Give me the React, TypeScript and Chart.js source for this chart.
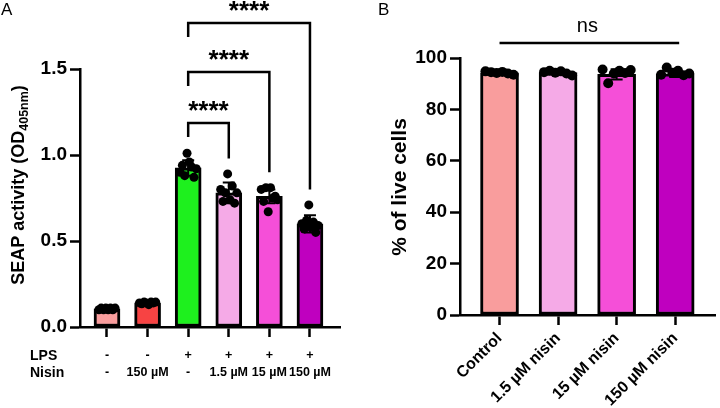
import React, { useEffect, useRef } from "react";
import { Chart, registerables } from "chart.js";

Chart.register(...registerables);

const FONT = "'Liberation Sans', Arial, Helvetica, sans-serif";

// ---- Panel A: SEAP reporter activity ----
const seapLps = ["-", "-", "+", "+", "+", "+"];
const seapNisin = ["-", "150 µM", "-", "1.5 µM", "15 µM", "150 µM"];
const seapMeans = [0.105, 0.14, 0.925, 0.78, 0.76, 0.6];
const seapSd = [0.005, 0.005, 0.045, 0.06, 0.04, 0.05];
const seapReplicates = [
  [0.1, 0.11, 0.1, 0.11, 0.1, 0.11, 0.1, 0.11],
  [0.14, 0.135, 0.145, 0.14, 0.13, 0.145, 0.14, 0.145],
  [0.9, 0.94, 0.88, 1.01, 0.96, 0.93, 0.87, 0.92],
  [0.8, 0.73, 0.78, 0.89, 0.74, 0.82, 0.72, 0.78],
  [0.8, 0.73, 0.81, 0.67, 0.81, 0.75, 0.76, 0.74],
  [0.6, 0.57, 0.62, 0.71, 0.58, 0.61, 0.55, 0.59],
];
const seapColors = ["#F99D9D", "#F74343", "#1EF01E", "#F5AAE7", "#F54FD8", "#BF00BF"];
const seapTicks = [0, 0.5, 1.0, 1.5];
// Pairwise comparisons against the LPS-only group
const seapComparisons = [
  { from: 2, to: 3, label: "****" },
  { from: 2, to: 4, label: "****" },
  { from: 2, to: 5, label: "****" },
];

// ---- Panel B: viability ----
const viabilityGroups = ["Control", "1.5 µM nisin", "15 µM nisin", "150 µM nisin"];
const viabilityMeans = [94.2, 94.3, 93.6, 93.8];
const viabilitySd = [0.8, 0.9, 2.0, 1.2];
const viabilityReplicates = [
  [94.8, 94.5, 94.2, 94.6, 94.0, 93.5],
  [94.5, 95.0, 94.3, 94.8, 94.0, 93.2],
  [95.5, 90.2, 94.0, 95.0, 94.2, 95.3],
  [93.5, 96.3, 94.3, 95.0, 93.3, 94.0],
];
const viabilityColors = ["#F99D9D", "#F5AAE7", "#F54FD8", "#BF00BF"];
const viabilityTicks = [0, 20, 40, 60, 80, 100];
const viabilityComparison = { from: 0, to: 3, label: "ns" };

const AXIS_W = 2.5;

function jittered(reps: number[][], spread: number) {
  const pts: { x: number; y: number }[] = [];
  reps.forEach((vals, i) => {
    const n = vals.length;
    vals.forEach((v, j) => {
      const off = n > 1 ? (-1 + (2 * j) / (n - 1)) * spread : 0;
      pts.push({ x: i + off, y: v });
    });
  });
  return pts;
}

function errorBarPlugin(means: number[], sds: number[], capW: number) {
  return {
    id: "errorBars",
    afterDatasetDraw(chart: any, args: any) {
      if (args.index !== 0) return;
      const { ctx, scales } = chart;
      ctx.save();
      ctx.strokeStyle = "#000";
      ctx.lineWidth = 2;
      means.forEach((m, i) => {
        const x = scales.x.getPixelForValue(i);
        const yt = scales.y.getPixelForValue(m + sds[i]);
        const yb = scales.y.getPixelForValue(m - sds[i]);
        ctx.beginPath();
        ctx.moveTo(x, yb);
        ctx.lineTo(x, yt);
        ctx.moveTo(x - capW / 2, yt);
        ctx.lineTo(x + capW / 2, yt);
        ctx.moveTo(x - capW / 2, yb);
        ctx.lineTo(x + capW / 2, yb);
        ctx.stroke();
      });
      ctx.restore();
    },
  };
}

function clearPadding(s: any) {
  s.paddingLeft = 0;
  s.paddingRight = 0;
  s.paddingTop = 0;
  s.paddingBottom = 0;
}

function axisX(min: number, max: number, n: number, height: number, ticks: any) {
  return {
    type: "linear",
    offset: false,
    min,
    max,
    afterBuildTicks: (s: any) => {
      s.ticks = Array.from({ length: n }, (_, i) => ({ value: i }));
    },
    afterFit: (s: any) => {
      s.height = height;
      clearPadding(s);
    },
    grid: {
      display: true,
      offset: false,
      drawOnChartArea: false,
      drawTicks: true,
      tickLength: 10,
      tickColor: "#000",
      tickWidth: AXIS_W,
      color: "#000",
    },
    border: { display: true, color: "#000", width: AXIS_W },
    ticks,
  };
}

function axisY(min: number, max: number, values: number[], width: number, fmt: (v: number) => string) {
  return {
    min,
    max,
    afterBuildTicks: (s: any) => {
      s.ticks = values.map((v) => ({ value: v }));
    },
    afterFit: (s: any) => {
      s.width = width;
      clearPadding(s);
    },
    grid: {
      display: true,
      drawOnChartArea: false,
      drawTicks: true,
      tickLength: 10,
      tickColor: "#000",
      tickWidth: AXIS_W,
      color: "#000",
    },
    border: { display: true, color: "#000", width: AXIS_W },
    ticks: {
      color: "#000",
      padding: 3,
      font: { family: FONT, size: 19, weight: "bold" },
      callback: (v: any) => fmt(Number(v)),
    },
  };
}

function SeapPanel() {
  const ref = useRef<HTMLCanvasElement>(null);
  useEffect(() => {
    const canvas = ref.current!;
    const annotations = {
      id: "seapAnnotations",
      afterDraw(chart: any) {
        const { ctx, scales } = chart;
        const xs = scales.x;
        const ys = scales.y;
        ctx.save();
        // panel letter
        ctx.fillStyle = "#000";
        ctx.font = `17px ${FONT}`;
        ctx.textAlign = "left";
        ctx.textBaseline = "alphabetic";
        ctx.fillText("A", 1, 15);

        // y-axis title with subscript
        ctx.save();
        ctx.translate(24, 185);
        ctx.rotate(-Math.PI / 2);
        const main = "SEAP activity (OD";
        const sub = "405nm";
        const close = ")";
        const mainFont = `bold 18px ${FONT}`;
        const subFont = `bold 12.5px ${FONT}`;
        ctx.font = mainFont;
        const wMain = ctx.measureText(main).width;
        const wClose = ctx.measureText(close).width;
        ctx.font = subFont;
        const wSub = ctx.measureText(sub).width;
        const x0 = -(wMain + wSub + wClose) / 2;
        ctx.font = mainFont;
        ctx.fillText(main, x0, 0);
        ctx.font = subFont;
        ctx.fillText(sub, x0 + wMain, 4);
        ctx.font = mainFont;
        ctx.fillText(close, x0 + wMain + wSub, 0);
        ctx.restore();

        // row headers for the treatment table
        ctx.font = `bold 14px ${FONT}`;
        ctx.textBaseline = "middle";
        ctx.textAlign = "left";
        ctx.fillText("LPS", 30, 356);
        ctx.fillText("Nisin", 30, 373);

        // significance brackets
        const levels = [1.186, 1.483, 1.767];
        ctx.strokeStyle = "#000";
        ctx.lineWidth = 2.5;
        seapComparisons.forEach((c, k) => {
          const xa = xs.getPixelForValue(c.from);
          const xb = xs.getPixelForValue(c.to);
          const yl = ys.getPixelForValue(levels[k]);
          const leftEnd = yl + 14;
          const rightEnd = ys.getPixelForValue(Math.max(...seapReplicates[c.to]) + 0.09);
          ctx.beginPath();
          ctx.moveTo(xa, leftEnd);
          ctx.lineTo(xa, yl);
          ctx.lineTo(xb, yl);
          ctx.lineTo(xb, rightEnd);
          ctx.stroke();
          ctx.font = `bold 26px ${FONT}`;
          ctx.textAlign = "center";
          ctx.textBaseline = "alphabetic";
          ctx.fillText(c.label, (xa + xb) / 2, yl - 4);
        });
        ctx.restore();
      },
    };

    const chart = new Chart(canvas, {
      type: "bar",
      data: {
        datasets: [
          {
            type: "bar",
            data: seapMeans.map((m, i) => ({ x: i, y: m })),
            backgroundColor: seapColors,
            borderColor: "#000",
            borderWidth: 3,
            borderSkipped: false,
            barThickness: 26,
            order: 2,
          } as any,
          {
            type: "scatter",
            data: jittered(seapReplicates, 0.2),
            pointRadius: 4.5,
            pointBackgroundColor: "#000",
            pointBorderWidth: 0,
            order: 1,
          } as any,
        ],
      },
      options: {
        animation: false,
        responsive: false,
        events: [],
        layout: { padding: { top: 69, right: 20, left: 0, bottom: 0 } },
        plugins: { legend: { display: false }, tooltip: { enabled: false } },
        scales: {
          x: axisX(-0.665, 5.74, seapLps.length, 81, {
            color: "#000",
            padding: 10,
            maxRotation: 0,
            minRotation: 0,
            autoSkip: false,
            font: { family: FONT, size: 12.5, weight: "bold", lineHeight: 1.36 },
            callback: (v: any) => [seapLps[Number(v)], seapNisin[Number(v)]],
          }),
          y: axisY(0, 1.5, seapTicks, 80, (v) => v.toFixed(1)),
        } as any,
      },
      plugins: [errorBarPlugin(seapMeans, seapSd, 12), annotations],
    });
    return () => chart.destroy();
  }, []);
  return <canvas ref={ref} width={360} height={408} style={{ position: "absolute", left: 0, top: 0 }} />;
}

function ViabilityPanel() {
  const ref = useRef<HTMLCanvasElement>(null);
  useEffect(() => {
    const canvas = ref.current!;
    const annotations = {
      id: "viabilityAnnotations",
      afterDraw(chart: any) {
        const { ctx, scales } = chart;
        ctx.save();
        ctx.fillStyle = "#000";
        ctx.font = `17px ${FONT}`;
        ctx.textAlign = "left";
        ctx.textBaseline = "alphabetic";
        ctx.fillText("B", 18, 15);

        ctx.save();
        ctx.translate(46, 187);
        ctx.rotate(-Math.PI / 2);
        ctx.font = `bold 21px ${FONT}`;
        ctx.textAlign = "center";
        ctx.fillText("% of live cells", 0, 0);
        ctx.restore();

        const c = viabilityComparison;
        const xa = scales.x.getPixelForValue(c.from);
        const xb = scales.x.getPixelForValue(c.to);
        const yl = scales.y.getPixelForValue(105.8);
        ctx.strokeStyle = "#000";
        ctx.lineWidth = 2.5;
        ctx.beginPath();
        ctx.moveTo(xa, yl);
        ctx.lineTo(xb + 4, yl);
        ctx.stroke();
        ctx.font = `20px ${FONT}`;
        ctx.textAlign = "center";
        ctx.fillText(c.label, (xa + xb) / 2, yl - 11);
        ctx.restore();
      },
    };

    const chart = new Chart(canvas, {
      type: "bar",
      data: {
        datasets: [
          {
            type: "bar",
            data: viabilityMeans.map((m, i) => ({ x: i, y: m })),
            backgroundColor: viabilityColors,
            borderColor: "#000",
            borderWidth: 3,
            borderSkipped: false,
            barThickness: 38,
            order: 2,
          } as any,
          {
            type: "scatter",
            data: jittered(viabilityReplicates, 0.24),
            pointRadius: 5,
            pointBackgroundColor: "#000",
            pointBorderWidth: 0,
            order: 1,
          } as any,
        ],
      },
      options: {
        animation: false,
        responsive: false,
        events: [],
        layout: { padding: { top: 58, right: 2, left: 0, bottom: 0 } },
        plugins: { legend: { display: false }, tooltip: { enabled: false } },
        scales: {
          x: axisX(-0.675, 3.68, viabilityGroups.length, 93, {
            color: "#000",
            padding: 4,
            maxRotation: 45,
            minRotation: 45,
            autoSkip: false,
            font: { family: FONT, size: 16, weight: "bold" },
            callback: (v: any) => viabilityGroups[Number(v)],
          }),
          y: axisY(0, 100, viabilityTicks, 100, (v) => String(v)),
        } as any,
      },
      plugins: [errorBarPlugin(viabilityMeans, viabilitySd, 12), annotations],
    });
    return () => chart.destroy();
  }, []);
  return <canvas ref={ref} width={360} height={408} style={{ position: "absolute", left: 360, top: 0 }} />;
}

export default function App() {
  return (
    <div
      style={{
        position: "fixed",
        left: 0,
        top: 0,
        width: 720,
        height: 408,
        background: "#fff",
        overflow: "hidden",
      }}
    >
      <SeapPanel />
      <ViabilityPanel />
    </div>
  );
}
